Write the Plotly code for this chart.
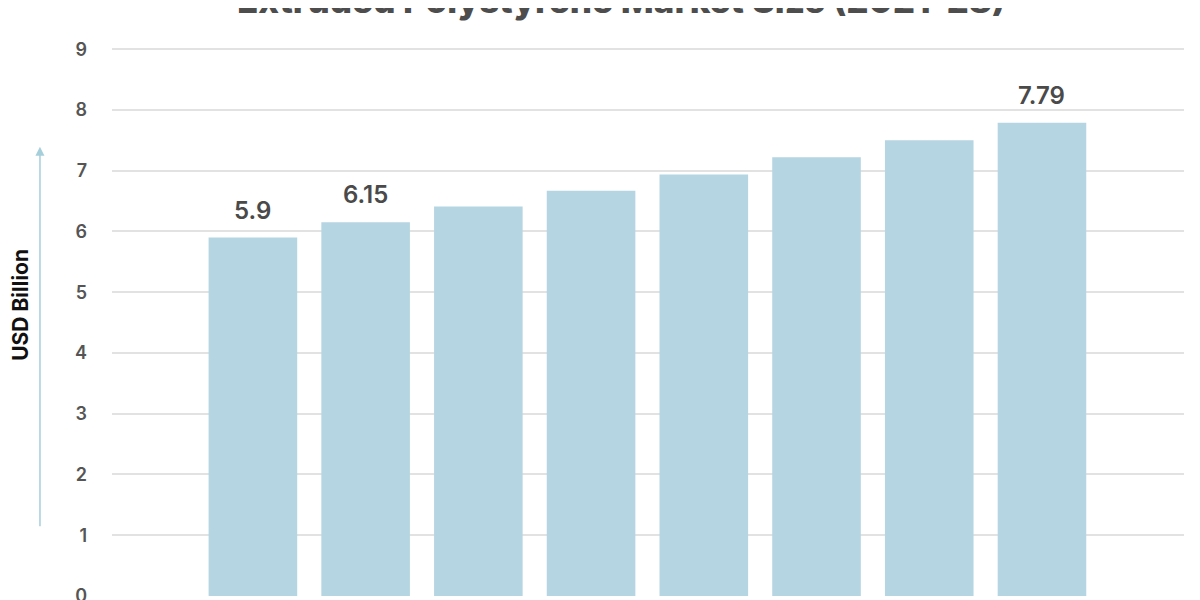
import plotly.graph_objects as go

years = ["2021", "2022", "2023", "2024", "2025", "2026", "2027", "2028"]
values = [5.9, 6.15, 6.41, 6.67, 6.94, 7.22, 7.50, 7.79]
labels = ["5.9", "6.15", "", "", "", "", "", "7.79"]
y_ticks = [0, 1, 2, 3, 4, 5, 6, 7, 8, 9]

FONT = "Inter, Lato, 'Open Sans', sans-serif"
BAR = "#b6d5e3"
TXT = "#4a4a4a"

fig = go.Figure()
fig.add_trace(go.Bar(
    x=list(range(len(years))), y=values, marker=dict(color=BAR, line=dict(width=0)),
    width=0.786, hovertext=years, hoverinfo="text+y",
))

for i, (v, t) in enumerate(zip(values, labels)):
    if t:
        fig.add_annotation(x=i, y=v, text=t, showarrow=False, yanchor="bottom",
                           yshift=11, font=dict(family=FONT, size=24, color=TXT, weight=600))

# y-axis title and arrow
fig.add_annotation(xref="paper", yref="paper", x=-0.086, y=0.515, text="USD Billion",
                   textangle=-90, showarrow=False, xanchor="center", yanchor="middle",
                   font=dict(family=FONT, size=21, color="#111111", weight=700))
fig.add_annotation(xref="paper", yref="paper", x=-0.0672, y=0.795, ax=0, ay=381,
                   axref="pixel", ayref="pixel", text="", showarrow=True,
                   arrowhead=2, arrowsize=1.2, arrowwidth=1.5, arrowcolor="#a6cfdc")

fig.update_layout(
    width=1200, height=600,
    margin=dict(l=104, r=24, t=23, b=12),
    plot_bgcolor="white", paper_bgcolor="white",
    showlegend=False,
    title=dict(text="Extruded Polystyrene Market Size (2021-28)", x=0.511, xanchor="center",
               yref="container", y=0.992, yanchor="bottom",
               font=dict(family=FONT, size=35, color="#4d4d4d", weight=800)),
    xaxis=dict(range=[-1.25, 8.26], tickmode="array", tickvals=list(range(len(years))),
               ticktext=years, showgrid=False, zeroline=False, showline=False,
               showticklabels=False, automargin=False),
    yaxis=dict(range=[0, 9.3], tickmode="array", tickvals=y_ticks,
               ticktext=[str(t) for t in y_ticks], showgrid=True, gridcolor="#e2e2e2",
               gridwidth=1.5, zeroline=False, showline=False, ticks="",
               ticklabelstandoff=24, automargin=False,
               tickfont=dict(family=FONT, size=18, color="#555555", weight=600)),
)

fig.write_html("out.html")
